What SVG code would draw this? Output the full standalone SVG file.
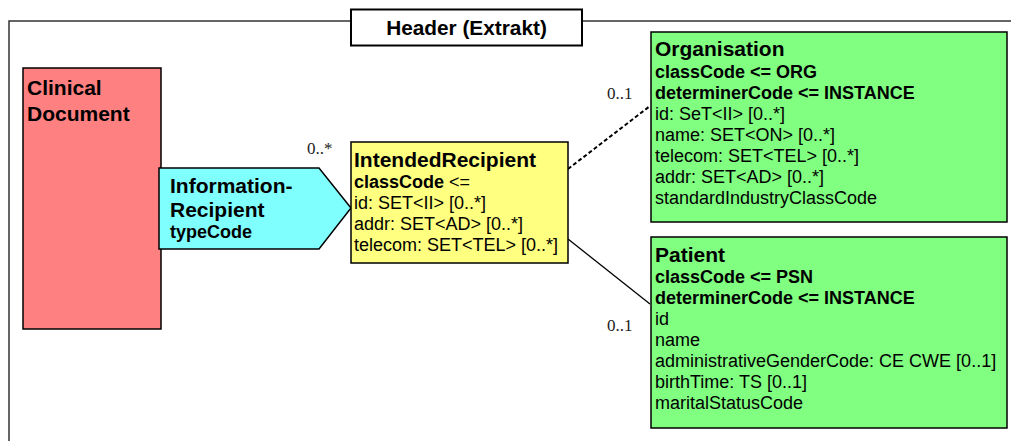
<svg xmlns="http://www.w3.org/2000/svg" width="1011" height="441" viewBox="0 0 1011 441">
<style>
.box{stroke:#000;stroke-width:1.5}
.t{font-family:"Liberation Sans",Arial,Helvetica,sans-serif;fill:#000}
.title{font-size:21px;font-weight:bold}
.sub{font-size:18px;font-weight:bold}
.n{font-size:18px}
.m{font-family:"Liberation Serif","Times New Roman",serif;font-size:17px;fill:#222}
</style>
<rect width="1011" height="441" fill="#fff"/>
<g id="frame">
<path d="M9 441 V21 H351 M582 21 H1011" fill="none" stroke="#333" stroke-width="1.5"/>
<rect x="351" y="9.5" width="231" height="36" fill="#fff" stroke="#000" stroke-width="2"/>
<text class="t" x="466.5" y="35" font-size="20.8" font-weight="bold" text-anchor="middle">Header (Extrakt)</text>
</g>
<g id="connectors">
<line x1="568" y1="169" x2="650" y2="106" stroke="#000" stroke-width="2" stroke-dasharray="4,2.5"/>
<line x1="568" y1="239" x2="650" y2="304" stroke="#000" stroke-width="1.3"/>
<text class="m" x="307" y="154">0..*</text>
<text class="m" x="607" y="99">0..1</text>
<text class="m" x="607" y="331">0..1</text>
</g>
<g id="clinical-document">
<rect class="box" x="23" y="68" width="138" height="261" fill="#FF8080"/>
<text class="t title" x="27" y="95">Clinical</text>
<text class="t title" x="27" y="121">Document</text>
</g>
<g id="information-recipient">
<polygon class="box" points="159,168 319,168 351,208 319,249 159,249" fill="#80FFFF"/>
<text class="t title" x="170" y="193">Information-</text>
<text class="t title" x="170" y="217">Recipient</text>
<text class="t sub" x="170" y="238">typeCode</text>
</g>
<g id="intended-recipient">
<rect class="box" x="351" y="142" width="217" height="121" fill="#FFFF80"/>
<text class="t title" x="354" y="167">IntendedRecipient</text>
<text class="t n" x="354" y="188"><tspan font-weight="bold">classCode</tspan> &lt;=</text>
<text class="t n" x="354" y="209">id: SET&lt;II&gt; [0..*]</text>
<text class="t n" x="354" y="230">addr: SET&lt;AD&gt; [0..*]</text>
<text class="t n" x="354" y="251">telecom: SET&lt;TEL&gt; [0..*]</text>
</g>
<g id="organisation">
<rect class="box" x="651" y="32" width="356" height="190" fill="#80FF80"/>
<text class="t title" x="655" y="56">Organisation</text>
<text class="t sub" x="655" y="78">classCode &lt;= ORG</text>
<text class="t sub" x="655" y="99">determinerCode &lt;= INSTANCE</text>
<text class="t n" x="655" y="120">id: SeT&lt;II&gt; [0..*]</text>
<text class="t n" x="655" y="141">name: SET&lt;ON&gt; [0..*]</text>
<text class="t n" x="655" y="162">telecom: SET&lt;TEL&gt; [0..*]</text>
<text class="t n" x="655" y="183">addr: SET&lt;AD&gt; [0..*]</text>
<text class="t n" x="655" y="204">standardIndustryClassCode</text>
</g>
<g id="patient">
<rect class="box" x="651" y="237" width="356" height="191" fill="#80FF80"/>
<text class="t title" x="655" y="262">Patient</text>
<text class="t sub" x="655" y="283">classCode &lt;= PSN</text>
<text class="t sub" x="655" y="304">determinerCode &lt;= INSTANCE</text>
<text class="t n" x="655" y="325">id</text>
<text class="t n" x="655" y="346">name</text>
<text class="t n" x="655" y="367">administrativeGenderCode: CE CWE [0..1]</text>
<text class="t n" x="655" y="388">birthTime: TS [0..1]</text>
<text class="t n" x="655" y="409">maritalStatusCode</text>
</g>
</svg>
